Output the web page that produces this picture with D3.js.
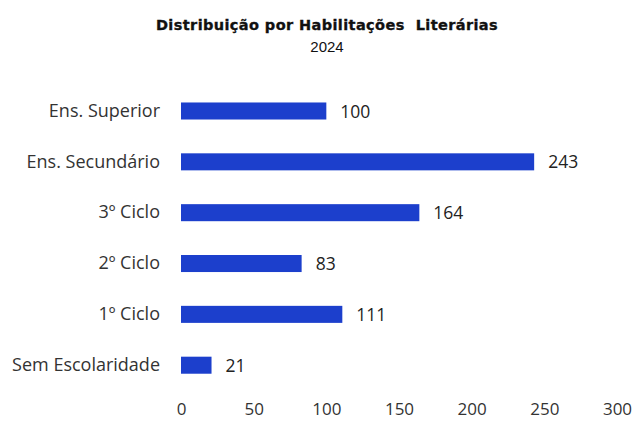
<!DOCTYPE html>
<html><head><meta charset="utf-8">
<script src="https://cdn.jsdelivr.net/npm/d3@7"></script>
<style>body{margin:0;background:#fff}</style>
</head><body>
<svg id="c" width="635" height="423"></svg>
<script>
const categories = ["Ens. Superior","Ens. Secundário","3º Ciclo","2º Ciclo","1º Ciclo","Sem Escolaridade"];
const values = [100,243,164,83,111,21];
const ticks = [0,50,100,150,200,250,300];

const svg = d3.select("#c");
const x = d3.scaleLinear().domain([0,300]).range([181,617]);
const y = d3.scaleBand().domain(categories).range([85.7,390.5]).paddingInner(0.665).paddingOuter(0.33);

svg.append("text").attr("x",327).attr("y",30).attr("text-anchor","middle")
  .attr("font-family","DejaVu Sans, sans-serif").attr("font-weight","bold").attr("font-size",14.5)
  .attr("letter-spacing",0.4).attr("stroke","#111").attr("stroke-width",0.35)
  .style("white-space","pre")
  .attr("fill","#111").text("Distribuição por Habilitações  Literárias");
svg.append("text").attr("x",327).attr("y",51.5).attr("text-anchor","middle")
  .attr("font-family","Liberation Sans, Arial").attr("font-size",15)
  .attr("fill","#111").text("2024");

svg.selectAll("rect.bar").data(values).enter().append("rect")
  .attr("x",x(0)).attr("y",(d,i)=>y(categories[i]))
  .attr("width",d=>x(d)-x(0)).attr("height",y.bandwidth())
  .attr("fill","#1c3fcc");

svg.selectAll("text.val").data(values).enter().append("text")
  .attr("x",d=>x(d)+14).attr("y",(d,i)=>y(categories[i])+y.bandwidth()/2)
  .attr("dy","0.38em").attr("font-family","Open Sans, sans-serif").attr("font-size",17.5)
  .attr("fill","#222").text(d=>d);

const ya = d3.axisLeft(y).tickSize(0).tickPadding(21);
const gy = svg.append("g").attr("transform",`translate(${x(0)},0)`).call(ya);
gy.select(".domain").remove();
gy.selectAll("text").attr("font-family","Open Sans, sans-serif").attr("font-size",18).attr("fill","#333");

const xa = d3.axisBottom(x).tickValues(ticks).tickSize(0).tickPadding(0);
const gx = svg.append("g").attr("transform","translate(0,403)").call(xa);
gx.select(".domain").remove();
gx.selectAll("text").attr("font-family","Open Sans, sans-serif").attr("font-size",17).attr("fill","#333");
</script>
</body></html>
